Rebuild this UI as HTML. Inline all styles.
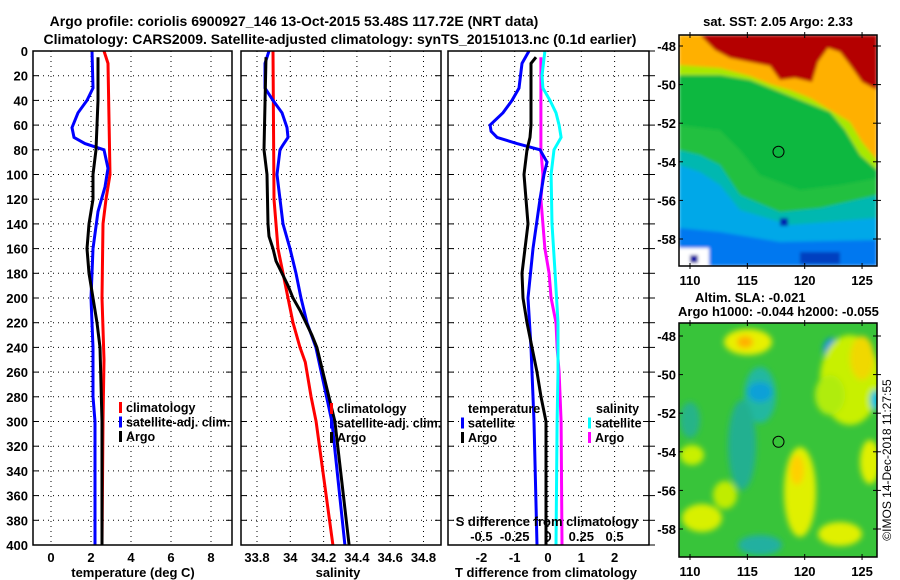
<!DOCTYPE html>
<html><head><meta charset="utf-8"><style>
html,body{margin:0;padding:0;background:#fff;}
svg{display:block;font-family:"Liberation Sans",sans-serif;font-weight:bold;}
</style></head><body>
<svg id="chart" width="900" height="580" viewBox="0 0 900 580">
<defs>
<clipPath id="cp1"><rect x="33" y="51" width="199" height="494"/></clipPath>
<clipPath id="cp2"><rect x="241" y="51" width="200" height="494"/></clipPath>
<clipPath id="cp3"><rect x="448" y="51" width="201" height="494"/></clipPath>
<clipPath id="cm1"><rect x="679" y="35" width="198" height="231"/></clipPath>
<clipPath id="cm2"><rect x="679" y="323" width="198" height="234"/></clipPath>
<filter id="blur1"><feGaussianBlur stdDeviation="1.5"/></filter>
<filter id="blur2"><feGaussianBlur stdDeviation="3"/></filter>
</defs>
<text x="294" y="26" font-size="14" text-anchor="middle">Argo profile: coriolis 6900927_146 13-Oct-2015 53.48S 117.72E (NRT data)</text>
<text x="340" y="44" font-size="14" text-anchor="middle">Climatology: CARS2009. Satellite-adjusted climatology: synTS_20151013.nc (0.1d earlier)</text>

<!-- top map -->
<g>
<g clip-path="url(#cm1)" filter="url(#blur1)">
<rect x="679" y="35" width="198" height="231" fill="#10b840"/>
<polygon points="679,125 720,130 740,150 760,175 800,190 840,185 877,178 877,266 679,266" fill="#20c040"/>
<polygon points="679,150 700,155 720,165 740,195 780,212 820,208 877,195 877,266 679,266" fill="#00b8b0"/>
<polygon points="679,165 700,172 720,185 740,210 790,225 877,218 877,266 679,266" fill="#00a8e8"/>
<polygon points="679,228 720,232 780,242 877,240 877,266 679,266" fill="#0078f0"/>
<polygon points="679,35 877,35 877,170 860,155 845,130 830,112 800,100 775,90 750,80 720,75 679,75" fill="#a8e800"/>
<polygon points="679,35 877,35 877,160 862,142 850,122 830,110 810,98 790,90 770,84 750,76 720,68 679,65" fill="#ffb000"/>
<polygon points="700,35 877,35 877,90 862,82 850,65 840,52 828,48 818,62 812,82 795,78 780,80 770,66 750,62 730,58 715,50" fill="#b40000"/>
<rect x="679" y="248" width="30" height="18" fill="#fff"/>
<rect x="690" y="255" width="8" height="8" fill="#0000a0"/>
<rect x="780" y="218" width="8" height="8" fill="#0020b0"/>
<rect x="800" y="252" width="40" height="12" fill="#0040c0"/>
</g>
<rect x="679" y="35" width="198" height="231" fill="none" stroke="#000" stroke-width="1.5"/>
<circle cx="778.5" cy="151.8" r="5.5" fill="none" stroke="#000"/>
</g>
<text x="778" y="26" font-size="13" text-anchor="middle">sat. SST: 2.05 Argo: 2.33</text>
<text x="695" y="302" font-size="13">Altim. SLA: -0.021</text>
<text x="678" y="316" font-size="13">Argo h1000: -0.044 h2000: -0.055</text>

<!-- bottom map -->
<g>
<g clip-path="url(#cm2)">
<rect x="679" y="323" width="198" height="234" fill="#38c43a"/>
<g filter="url(#blur2)">
<ellipse cx="748" cy="342" rx="24" ry="13" fill="#e8f000"/>
<ellipse cx="745" cy="342" rx="8" ry="6" fill="#ffb000"/>
<ellipse cx="760" cy="395" rx="16" ry="28" fill="#20b8a0"/>
<ellipse cx="760" cy="392" rx="12" ry="10" fill="#10a0d8"/>
<ellipse cx="742" cy="445" rx="14" ry="45" fill="#20b090"/>
<ellipse cx="832" cy="350" rx="9" ry="12" fill="#0090e0"/>
<ellipse cx="850" cy="380" rx="30" ry="45" fill="#c8f000"/>
<ellipse cx="862" cy="358" rx="12" ry="22" fill="#f0d800"/>
<ellipse cx="830" cy="395" rx="15" ry="20" fill="#b0ec10"/>
<ellipse cx="800" cy="492" rx="16" ry="45" fill="#e0f000"/>
<ellipse cx="797" cy="470" rx="7" ry="15" fill="#ffd000"/>
<ellipse cx="840" cy="534" rx="22" ry="12" fill="#e0f000"/>
<ellipse cx="702" cy="518" rx="20" ry="14" fill="#d8f000"/>
<ellipse cx="725" cy="495" rx="12" ry="14" fill="#c0ec00"/>
<ellipse cx="692" cy="455" rx="12" ry="10" fill="#c8f000"/>
<ellipse cx="870" cy="462" rx="10" ry="22" fill="#e0f000"/>
<ellipse cx="760" cy="545" rx="22" ry="10" fill="#20b0a0"/>
<ellipse cx="690" cy="420" rx="10" ry="18" fill="#28b488"/>
<ellipse cx="875" cy="400" rx="5" ry="10" fill="#00c0e0"/>
</g>
</g>
<rect x="679" y="323" width="198" height="234" fill="none" stroke="#000" stroke-width="1.5"/>
<circle cx="778.5" cy="441.8" r="5.5" fill="none" stroke="#000"/>
</g>
<text transform="translate(891,460) rotate(-90)" font-size="12" font-weight="normal" text-anchor="middle">©IMOS 14-Dec-2018 11:27:55</text>
<g id="dyn"></g>
</svg>
<script>
// ---- data ----
const depthTicks = [0,20,40,60,80,100,120,140,160,180,200,220,240,260,280,300,320,340,360,380,400];
const tempTicks = [0,2,4,6,8];
const salTicks = [33.8,34,34.2,34.4,34.6,34.8];
const salTickLabels = ["33.8","34","34.2","34.4","34.6","34.8"];
const diffTTicks = [-2,-1,0,1,2];
const diffSTicks = [-0.5,-0.25,0,0.25,0.5];
const diffSTickLabels = ["-0.5","-0.25","0","0.25","0.5"];
const latTicks = [-48,-50,-52,-54,-56,-58];
const lonTicks = [110,115,120,125];

const tempClimDepth = [0,10,100,120,140,200,250,300,400];
const tempClim = [2.65,2.85,2.95,2.75,2.6,2.55,2.65,2.6,2.55];
const tempSatDepth = [0,30,40,50,62,70,75,80,95,110,130,160,200,240,280,300,400];
const tempSat = [2.05,2.1,1.8,1.35,1.05,1.15,1.7,2.65,2.85,2.7,2.35,2.1,2.0,2.1,2.1,2.2,2.2];
const tempArgoDepth = [5,40,60,80,100,120,140,160,180,200,220,240,300,400];
const tempArgo = [2.35,2.35,2.3,2.25,2.1,2.1,1.9,1.8,1.9,2.1,2.3,2.45,2.55,2.55];

const salClimDepth = [0,120,140,160,180,200,220,240,252,280,300,400];
const salClim = [33.896,33.902,33.914,33.926,33.956,33.986,34.016,34.058,34.09,34.125,34.155,34.256];
const salSatDepth = [0,10,30,40,50,62,70,76,80,100,120,140,160,180,200,220,240,300,400];
const salSat = [33.872,33.848,33.848,33.896,33.950,33.980,33.986,33.956,33.938,33.920,33.938,33.956,33.998,34.034,34.064,34.100,34.154,34.250,34.328];
const salArgoDepth = [5,80,100,140,150,160,170,180,190,200,210,220,230,240,300,400];
const salArgo = [33.854,33.842,33.860,33.866,33.872,33.896,33.914,33.950,33.986,34.016,34.058,34.094,34.130,34.160,34.268,34.353];

const dTSatDepth = [0,10,30,40,50,60,65,70,75,80,90,100,120,160,200,240,300,400];
const dTSat = [-0.57,-0.78,-0.87,-1.08,-1.35,-1.74,-1.71,-1.53,-0.93,-0.24,-0.03,-0.12,-0.24,-0.45,-0.6,-0.51,-0.42,-0.33];
const dTArgoDepth = [5,10,60,70,80,100,120,140,160,180,200,220,240,260,280,300,400];
const dTArgo = [-0.36,-0.51,-0.51,-0.54,-0.63,-0.72,-0.66,-0.6,-0.69,-0.78,-0.75,-0.63,-0.48,-0.33,-0.21,-0.06,-0.06];
const dSSatDepth = [0,20,30,40,50,60,70,80,100,140,180,220,260,300,400];
const dSSat = [-0.023,-0.045,-0.038,0.015,0.06,0.083,0.098,0.045,0.023,0.03,0.053,0.075,0.075,0.068,0.06];
const dSArgoDepth = [5,60,80,100,120,140,160,180,200,220,240,260,300,400];
const dSArgo = [-0.053,-0.053,-0.053,-0.038,-0.053,-0.038,-0.023,0.008,0.023,0.06,0.068,0.083,0.098,0.105];

// ---- axes ----
const NS = "http://www.w3.org/2000/svg";
const root = document.getElementById('dyn');
const yD = d => 51 + d * 1.235;
const xT = t => 51 + t * 20;
const xS = s => 257 + (s - 33.8) * 166.5;
const xDT = t => 548 + t * 33.3;
const xDS = s => 548 + s * 133.2;
const yLat1 = l => 46 + (-48 - l) * 19.3;
const yLat2 = l => 336 + (-48 - l) * 19.3;
const xLon = l => 690 + (l - 110) * 11.47;

function el(tag, attrs, parent) {
  const e = document.createElementNS(NS, tag);
  for (const k in attrs) e.setAttribute(k, attrs[k]);
  (parent || root).appendChild(e);
  return e;
}
function txt(x, y, s, size, anchor, parent) {
  const t = el('text', {x: x, y: y, 'font-size': size, 'text-anchor': anchor || 'middle'}, parent);
  t.textContent = s;
  return t;
}

const panels = [
  {x0: 33, x1: 232, clip: 'cp1', name: 'temperature-panel'},
  {x0: 241, x1: 441, clip: 'cp2', name: 'salinity-panel'},
  {x0: 448, x1: 649, clip: 'cp3', name: 'difference-panel'}
];
panels.forEach((p, i) => {
  const g = el('g', {});
  
  
  p.g = g;
  depthTicks.forEach(d => {
    const y = yD(d);
    if (d > 0 && d < 400) el('line', {x1: p.x0, x2: p.x1, y1: y, y2: y, stroke: '#000', 'stroke-width': 1, 'stroke-dasharray': '1,4'}, g);
    el('line', {x1: p.x1 - 6, x2: p.x1 + (i === 2 ? 6 : 0), y1: y, y2: y, stroke: '#000', 'stroke-width': 1}, g);
    el('line', {x1: p.x0, x2: p.x0 + 6, y1: y, y2: y, stroke: '#000', 'stroke-width': 1}, g);
  });
});
depthTicks.forEach(d => {
  const t = txt(28, yD(d) + 5, String(d), 13, 'end');
  
  
});
function vgrid(p, xs, fn) {
  xs.forEach(v => {
    const x = fn(v);
    el('line', {x1: x, x2: x, y1: 51, y2: 545, stroke: '#000', 'stroke-width': 1, 'stroke-dasharray': '1,4'}, p.g);
  });
}
vgrid(panels[0], tempTicks, xT);
vgrid(panels[1], salTicks, xS);
vgrid(panels[2], diffTTicks, xDT);
tempTicks.forEach(v => { const t = txt(xT(v), 562, String(v), 13);   });
salTicks.forEach((v, k) => { const t = txt(xS(v), 562, salTickLabels[k], 13);   });
diffTTicks.forEach(v => { const t = txt(xDT(v), 562, String(v), 13);   });
diffSTicks.forEach((v, k) => { const t = txt(xDS(v), 541, diffSTickLabels[k], 13);   });
let a;
a = txt(133, 577, 'temperature (deg C)', 13);  
a = txt(338, 577, 'salinity', 13);  
a = txt(546, 577, 'T difference from climatology', 13);  
a = txt(547, 526, 'S difference from climatology', 13);  

function series(p, depths, vals, fn, color, name) {
  const pts = depths.map((d, k) => fn(vals[k]).toFixed(1) + ',' + yD(d).toFixed(1)).join(' ');
  const pl = el('polyline', {points: pts, fill: 'none', stroke: color, 'stroke-width': 3, 'clip-path': 'url(#' + p.clip + ')'}, p.g);
  
  
}
series(panels[0], tempClimDepth, tempClim, xT, '#ff0000', 'temperature-climatology-line');
series(panels[0], tempSatDepth, tempSat, xT, '#0000ff', 'temperature-satellite-line');
series(panels[0], tempArgoDepth, tempArgo, xT, '#000000', 'temperature-argo-line');
series(panels[1], salClimDepth, salClim, xS, '#ff0000', 'salinity-climatology-line');
series(panels[1], salSatDepth, salSat, xS, '#0000ff', 'salinity-satellite-line');
series(panels[1], salArgoDepth, salArgo, xS, '#000000', 'salinity-argo-line');
series(panels[2], dSArgoDepth, dSArgo, xDS, '#ff00ff', 's-diff-argo-line');
series(panels[2], dSSatDepth, dSSat, xDS, '#00ffff', 's-diff-satellite-line');
series(panels[2], dTSatDepth, dTSat, xDT, '#0000ff', 't-diff-satellite-line');
series(panels[2], dTArgoDepth, dTArgo, xDT, '#000000', 't-diff-argo-line');

panels.forEach(p => el('rect', {x: p.x0, y: 51, width: p.x1 - p.x0, height: 494, fill: 'none', stroke: '#000', 'stroke-width': 1.5}, p.g));

function legend(x, y, items, name) {
  const g = el('g', {});
  
  
  items.forEach((it, k) => {
    if (!it[0]) return;
    el('rect', {x: x, y: y + k * 14.5 - 5, width: 3, height: 11, fill: it[0]}, g);
    txt(x + 7, y + k * 14.5 + 5, it[1], 12.5, 'start', g);
  });
}
legend(119, 407, [['#ff0000', 'climatology'], ['#0000ff', 'satellite-adj. clim.'], ['#000000', 'Argo']], 'temperature-legend');
legend(330, 408, [['#ff0000', 'climatology'], ['#0000ff', 'satellite-adj. clim.'], ['#000000', 'Argo']], 'salinity-legend');
legend(461, 408, [[null, ''], ['#0000ff', 'satellite'], ['#000000', 'Argo']], 't-diff-legend');
txt(468, 413, 'temperature', 12.5, 'start');
legend(588, 408, [[null, ''], ['#00ffff', 'satellite'], ['#ff00ff', 'Argo']], 's-diff-legend');
txt(596, 413, 'salinity', 12.5, 'start');

[[yLat1, 35, 266], [yLat2, 323, 557]].forEach((m, mi) => {
  latTicks.forEach(l => {
    const y = m[0](l);
    const t = txt(676, y + 5, String(l), 13, 'end');
    
    
    el('line', {x1: 679, x2: 683, y1: y, y2: y, stroke: '#000'});
    el('line', {x1: 873, x2: 881, y1: y, y2: y, stroke: '#000'});
  });
  lonTicks.forEach(l => {
    const x = xLon(l);
    const t = txt(x, m[2] + 19, String(l), 13);
    
    
    el('line', {x1: x, x2: x, y1: m[1] - 3, y2: m[1] + 3, stroke: '#000'});
    el('line', {x1: x, x2: x, y1: m[2] - 3, y2: m[2] + 3, stroke: '#000'});
  });
});
</script>
</body></html>
